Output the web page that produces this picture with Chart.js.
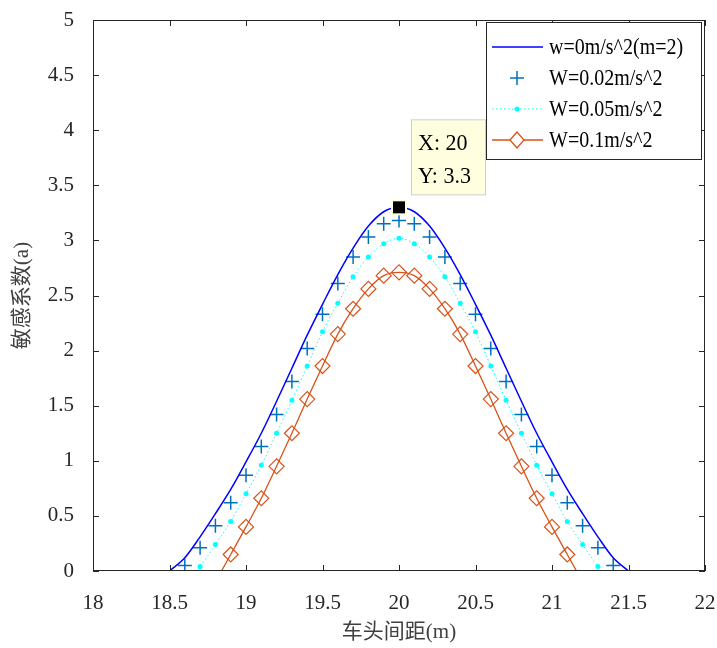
<!DOCTYPE html>
<html>
<head>
<meta charset="utf-8">
<script src="https://cdn.jsdelivr.net/npm/chart.js@4.4.1/dist/chart.umd.min.js"></script>
<style>html,body{margin:0;padding:0;background:#fff}</style>
</head>
<body>
<canvas id="miGrafico" width="717" height="648"></canvas>
<script>
// 车头间距 (m)
const spacing = [18.5, 18.6, 18.7, 18.8, 18.9, 19.0, 19.1, 19.2, 19.3, 19.4, 19.5,
  19.6, 19.7, 19.8, 19.9, 20.0, 20.1, 20.2, 20.3, 20.4, 20.5, 20.6, 20.7, 20.8,
  20.9, 21.0, 21.1, 21.2, 21.3, 21.4, 21.5];
// 敏感系数
const w0 = [0, 0.12, 0.31, 0.52, 0.74, 0.99, 1.25, 1.54, 1.84, 2.14, 2.42, 2.69, 2.93,
  3.13, 3.26, 3.3, 3.26, 3.13, 2.93, 2.69, 2.42, 2.14, 1.84, 1.54, 1.25, 0.99, 0.74,
  0.52, 0.31, 0.12, 0];
const w002 = [null, 0.05, 0.21, 0.41, 0.62, 0.87, 1.13, 1.42, 1.72, 2.02, 2.33, 2.61,
  2.85, 3.03, 3.15, 3.18, 3.15, 3.03, 2.85, 2.61, 2.33, 2.02, 1.72, 1.42, 1.13, 0.87,
  0.62, 0.41, 0.21, 0.05, null];
const w005 = [null, -0.12, 0.04, 0.24, 0.45, 0.7, 0.96, 1.25, 1.55, 1.86, 2.17, 2.43,
  2.67, 2.85, 2.97, 3.02, 2.97, 2.85, 2.67, 2.43, 2.17, 1.86, 1.55, 1.25, 0.96, 0.7,
  0.45, 0.24, 0.04, -0.12, null];
const w01 = [null, null, null, -0.1, 0.15, 0.4, 0.66, 0.95, 1.25, 1.56, 1.86, 2.15,
  2.38, 2.56, 2.68, 2.71, 2.68, 2.56, 2.38, 2.15, 1.86, 1.56, 1.25, 0.95, 0.66, 0.4,
  0.15, -0.1, null, null, null];
const labels = ['w=0m/s^2(m=2)', 'W=0.02m/s^2', 'W=0.05m/s^2', 'W=0.1m/s^2'];
const tipX = 20, tipY = 3.3;

const serif = 'Liberation Serif, Times New Roman, serif';
const axisColor = '#262626';
const blue = '#0000FF', plusBlue = '#0072BD', cyan = '#00FFFF', orange = '#D95319';

Chart.defaults.font.family = serif;

const pts = vals => spacing.map((x, i) => ({x: x, y: vals[i]}));

// text a bit taller than wide, like the stretched figure
function tallText(ctx, txt, x, y, sy) {
  ctx.save();
  ctx.translate(x, y);
  ctx.scale(1, sy);
  ctx.fillText(txt, 0, 0);
  ctx.restore();
}

const matlabFrame = {
  id: 'matlabFrame',
  afterDatasetsDraw(chart) {
    const {ctx, chartArea: a, scales: {x, y}} = chart;
    ctx.save();
    ctx.strokeStyle = axisColor;
    ctx.lineWidth = 1;
    ctx.beginPath();
    x.ticks.forEach(t => {
      const px = Math.round(x.getPixelForValue(t.value)) + 0.5;
      ctx.moveTo(px, a.bottom); ctx.lineTo(px, a.bottom - 6);
      ctx.moveTo(px, a.top); ctx.lineTo(px, a.top + 6);
    });
    y.ticks.forEach(t => {
      const py = Math.round(y.getPixelForValue(t.value)) + 0.5;
      ctx.moveTo(a.left, py); ctx.lineTo(a.left + 6, py);
      ctx.moveTo(a.right, py); ctx.lineTo(a.right - 6, py);
    });
    ctx.stroke();
    ctx.strokeRect(Math.round(a.left) + 0.5, Math.round(a.top) + 0.5,
      Math.round(a.width) - 1, Math.round(a.height) - 1);

    // data tip
    const tx = x.getPixelForValue(tipX), ty = y.getPixelForValue(tipY);
    ctx.fillStyle = '#FFFFE0';
    ctx.fillRect(tx - 8, ty - 8, 16, 16);
    ctx.fillStyle = '#000';
    ctx.fillRect(tx - 6, ty - 6, 12, 12);
    const bx = tx + 12, by = ty - 88;
    ctx.fillStyle = '#FFFFE0';
    ctx.fillRect(bx, by, 75, 76);
    ctx.strokeStyle = '#CFCFCF';
    ctx.strokeRect(bx + 0.5, by + 0.5, 74, 75);
    ctx.fillStyle = '#000';
    ctx.font = '22px ' + serif;
    ctx.textBaseline = 'alphabetic';
    ctx.textAlign = 'left';
    tallText(ctx, 'X: ' + tipX, bx + 7, by + 31, 1.05);
    tallText(ctx, 'Y: ' + tipY, bx + 7, by + 64, 1.05);

    // legend
    const lx = 486, ly = 22, lw = 215, lh = 137;
    ctx.fillStyle = '#fff';
    ctx.fillRect(lx, ly, lw, lh);
    ctx.strokeStyle = axisColor;
    ctx.strokeRect(lx + 0.5, ly + 0.5, lw, lh);
    const rows = [47, 78, 109, 140];
    const x0 = 492, x1 = 543, xm = 517;
    // row 1
    ctx.strokeStyle = blue; ctx.lineWidth = 1.4;
    ctx.beginPath(); ctx.moveTo(x0, rows[0]); ctx.lineTo(x1, rows[0]); ctx.stroke();
    // row 2
    ctx.strokeStyle = plusBlue; ctx.lineWidth = 1.5;
    ctx.beginPath();
    ctx.moveTo(xm - 7, rows[1]); ctx.lineTo(xm + 7, rows[1]);
    ctx.moveTo(xm, rows[1] - 7); ctx.lineTo(xm, rows[1] + 7);
    ctx.stroke();
    // row 3
    ctx.strokeStyle = cyan; ctx.lineWidth = 1; ctx.setLineDash([1.5, 2.5]);
    ctx.beginPath(); ctx.moveTo(x0, rows[2]); ctx.lineTo(x1, rows[2]); ctx.stroke();
    ctx.setLineDash([]);
    ctx.fillStyle = cyan;
    ctx.beginPath(); ctx.arc(xm, rows[2], 2.5, 0, Math.PI * 2); ctx.fill();
    // row 4
    ctx.strokeStyle = orange; ctx.lineWidth = 1.3;
    ctx.beginPath(); ctx.moveTo(x0, rows[3]); ctx.lineTo(x1, rows[3]); ctx.stroke();
    ctx.fillStyle = '#fff';
    ctx.beginPath();
    ctx.moveTo(xm - 7, rows[3]); ctx.lineTo(xm, rows[3] - 8);
    ctx.lineTo(xm + 7, rows[3]); ctx.lineTo(xm, rows[3] + 8); ctx.closePath();
    ctx.fill(); ctx.stroke();

    ctx.fillStyle = '#000';
    ctx.font = '20px ' + serif;
    ctx.textBaseline = 'middle';
    labels.forEach((t, i) => tallText(ctx, t, 549, rows[i] + 1, 1.15));
    ctx.restore();
  }
};

window.onload = function () {
  const ctx = document.getElementById('miGrafico').getContext('2d');
  new Chart(ctx, {
    type: 'line',
    data: {
      datasets: [
        {
          label: labels[0],
          data: pts(w0),
          borderColor: blue,
          borderWidth: 1.5,
          pointRadius: 0,
          cubicInterpolationMode: 'monotone',
          fill: false
        },
        {
          label: labels[1],
          data: pts(w002),
          showLine: false,
          pointStyle: 'cross',
          pointRadius: 7,
          pointBorderWidth: 1.5,
          pointBorderColor: plusBlue,
          borderColor: plusBlue
        },
        {
          label: labels[2],
          data: pts(w005),
          borderColor: cyan,
          borderWidth: 1,
          borderDash: [1.5, 2.5],
          pointRadius: 2.5,
          pointBackgroundColor: cyan,
          pointBorderWidth: 0,
          cubicInterpolationMode: 'monotone'
        },
        {
          label: labels[3],
          data: pts(w01),
          borderColor: orange,
          borderWidth: 1.3,
          pointStyle: 'rectRot',
          pointRadius: 7.5,
          pointBackgroundColor: 'rgba(255,255,255,0)',
          pointBorderColor: orange,
          pointBorderWidth: 1.2,
          cubicInterpolationMode: 'monotone'
        }
      ]
    },
    options: {
      responsive: false,
      animation: false,
      layout: {padding: {top: 20, right: 12, left: 0, bottom: 0}},
      plugins: {
        legend: {display: false},
        tooltip: {enabled: false}
      },
      scales: {
        x: {
          type: 'linear',
          min: 18,
          max: 22,
          grid: {display: false},
          border: {display: false},
          ticks: {
            stepSize: 0.5,
            autoSkip: false,
            maxRotation: 0,
            padding: 12,
            color: axisColor,
            font: {family: serif, size: 21},
            callback: v => String(+v.toFixed(1))
          },
          title: {
            display: true,
            text: '车头间距(m)',
            color: '#404040',
            padding: {top: 0, bottom: 3},
            font: {family: serif + ', Noto Sans CJK SC', size: 21}
          },
          afterFit: s => { s.height = 77; s.paddingLeft = 0; s.paddingRight = 0; }
        },
        y: {
          min: 0,
          max: 5,
          grid: {display: false},
          border: {display: false},
          ticks: {
            stepSize: 0.5,
            autoSkip: false,
            padding: 11,
            color: axisColor,
            font: {family: serif, size: 21},
            callback: v => String(+v.toFixed(1))
          },
          title: {
            display: true,
            text: '敏感系数(a)',
            color: '#404040',
            padding: {top: 10, bottom: 0},
            font: {family: serif + ', Noto Sans CJK SC', size: 21}
          },
          afterFit: s => { s.width = 93; s.paddingTop = 0; s.paddingBottom = 0; }
        }
      }
    },
    plugins: [matlabFrame]
  });
};
</script>
</body>
</html>
